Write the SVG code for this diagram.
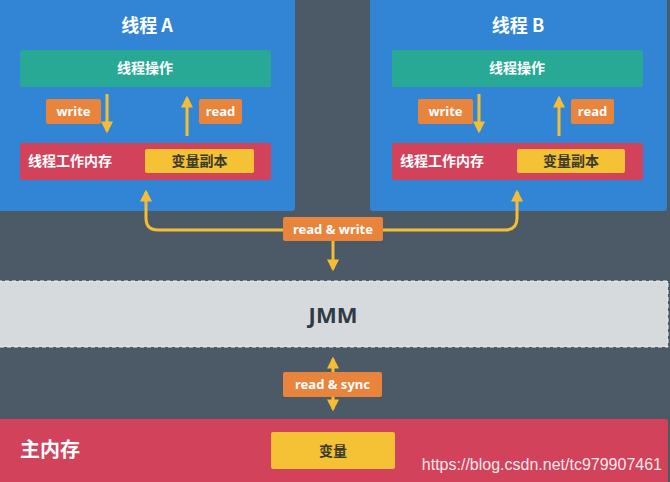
<svg xmlns="http://www.w3.org/2000/svg" width="670" height="482" viewBox="0 0 670 482">
<defs>
<style>
.bg{fill:#4b5a66}
.thread{fill:#3285d5}
.op{fill:#27a996}
.mem{fill:#d2435b}
.copy{fill:#f5c135}
.tag{fill:#e8843b}
.wt{font-family:"Noto Sans CJK SC","Noto Sans",sans-serif;font-weight:bold;fill:#ffffff}
.dk{font-family:"Noto Sans CJK SC","Noto Sans",sans-serif;font-weight:bold;fill:#3a3a2a}
.tg{font-family:"Noto Sans","Liberation Sans",sans-serif;font-weight:bold;fill:#ffffff;font-size:13px}
.ln{stroke:#f5bd35;stroke-width:3;fill:none}
</style>
<marker id="ah" viewBox="0 0 10 10" refX="8" refY="5" markerWidth="4" markerHeight="4" orient="auto-start-reverse" markerUnits="strokeWidth">
<path d="M0,0 L10,5 L0,10 z" fill="#f5bd35"/>
</marker>
</defs>
<rect class="bg" x="0" y="0" width="670" height="482"/>

<g id="threadA">
<rect class="thread" x="-4" y="-4" width="299" height="215" rx="3"/>
<text class="wt" x="147" y="32" font-size="18" text-anchor="middle">线程 A</text>
</g>
<g id="opA">
<rect class="op" x="20" y="50" width="251" height="37" rx="2"/>
<text class="wt" x="145" y="73" font-size="14" text-anchor="middle">线程操作</text>
</g>
<g id="memA">
<rect class="mem" x="20" y="143" width="251" height="37" rx="2"/>
<text class="wt" x="28" y="166" font-size="14">线程工作内存</text>
</g>
<g id="copyA">
<rect class="copy" x="145" y="149" width="109" height="24" rx="2"/>
<text class="dk" x="199.5" y="166" font-size="14" text-anchor="middle">变量副本</text>
</g>

<g id="threadB">
<rect class="thread" x="370" y="-4" width="297" height="215" rx="3"/>
<text class="wt" x="518" y="32" font-size="18" text-anchor="middle">线程 B</text>
</g>
<g id="opB">
<rect class="op" x="392" y="50" width="251" height="37" rx="2"/>
<text class="wt" x="517" y="73" font-size="14" text-anchor="middle">线程操作</text>
</g>
<g id="memB">
<rect class="mem" x="392" y="143" width="251" height="37" rx="2"/>
<text class="wt" x="400" y="166" font-size="14">线程工作内存</text>
</g>
<g id="copyB">
<rect class="copy" x="517" y="149" width="108" height="24" rx="2"/>
<text class="dk" x="571" y="166" font-size="14" text-anchor="middle">变量副本</text>
</g>

<g id="jmm">
<rect x="-2" y="281" width="670" height="66" fill="#d7dadd" stroke="#f2f2f2" stroke-width="1" stroke-dasharray="4 3"/>
<text x="333" y="323" font-family="Noto Sans,Liberation Sans,sans-serif" font-weight="bold" font-size="22" fill="#2e3a44" text-anchor="middle">JMM</text>
</g>

<g id="mainMem">
<rect class="mem" x="-2" y="419" width="670" height="66" rx="2"/>
<text class="wt" x="20" y="457" font-size="20">主内存</text>
</g>
<g id="var">
<rect class="copy" x="271" y="432" width="124" height="37" rx="2"/>
<text class="dk" x="333" y="456" font-size="14" text-anchor="middle">变量</text>
</g>

<g id="connectors">
<line class="ln" x1="107" y1="94" x2="107" y2="131" marker-end="url(#ah)"/>
<line class="ln" x1="187" y1="136" x2="187" y2="98" marker-end="url(#ah)"/>
<line class="ln" x1="479" y1="94" x2="479" y2="131" marker-end="url(#ah)"/>
<line class="ln" x1="559" y1="136" x2="559" y2="98" marker-end="url(#ah)"/>
<path class="ln" d="M283,230 L158,230 Q146,230 146,218 L146,192" marker-end="url(#ah)"/>
<path class="ln" d="M383,230 L505,230 Q517,230 517,218 L517,192" marker-end="url(#ah)"/>
<line class="ln" x1="333" y1="241" x2="333" y2="269" marker-end="url(#ah)"/>
<line class="ln" x1="333" y1="372" x2="333" y2="359" marker-end="url(#ah)"/>
<line class="ln" x1="333" y1="397" x2="333" y2="409" marker-end="url(#ah)"/>
</g>

<g id="labels">
<rect class="tag" x="46" y="99" width="55" height="25" rx="2"/>
<text class="tg" x="73.5" y="116" text-anchor="middle">write</text>
<rect class="tag" x="199" y="99" width="43" height="25" rx="2"/>
<text class="tg" x="220.5" y="116" text-anchor="middle">read</text>
<rect class="tag" x="418" y="99" width="55" height="25" rx="2"/>
<text class="tg" x="445.5" y="116" text-anchor="middle">write</text>
<rect class="tag" x="571" y="99" width="43" height="25" rx="2"/>
<text class="tg" x="592.5" y="116" text-anchor="middle">read</text>
<rect class="tag" x="283" y="217" width="100" height="24" rx="2"/>
<text class="tg" x="333" y="233.5" text-anchor="middle">read &amp; write</text>
<rect class="tag" x="283" y="372" width="99" height="25" rx="2"/>
<text class="tg" x="332.5" y="389" text-anchor="middle">read &amp; sync</text>
</g>

<text x="662" y="470" font-family="Liberation Sans,Arial,sans-serif" font-size="16" fill="#ffffff" fill-opacity="0.9" text-anchor="end">https://blog.csdn.net/tc979907461</text>
</svg>
